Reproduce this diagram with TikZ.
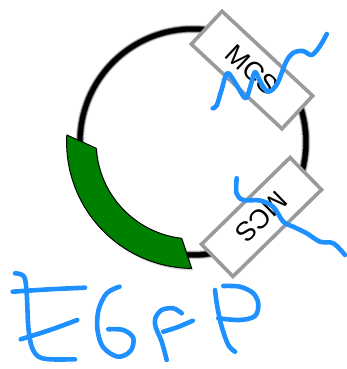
\documentclass[tikz,border=0pt]{standalone}
\usepackage{fontspec}
\newfontfamily\labelfont{Liberation Sans}
\definecolor{pen}{RGB}{30,144,255}
\definecolor{boxgray}{RGB}{152,154,157}
\definecolor{egfp}{RGB}{0,128,0}
\tikzset{
  scribble/.style={draw=pen,line width=4.6pt,line cap=round,line join=round},
  mcsbox/.style={draw=boxgray,line width=3.6pt,fill=white,minimum width=124pt,minimum height=45pt,inner sep=0pt,
    font=\labelfont\fontsize{27}{27}\selectfont}
}
\begin{document}
\begin{tikzpicture}[x=1pt,y=1pt,yscale=-1]
\useasboundingbox (0,0) rectangle (347,369);
% plasmid backbone
\draw[black!20,line width=8.5pt] (193,142) circle[radius=113];
\draw[black!60,line width=6.5pt] (193,142) circle[radius=113];
\draw[black,line width=5pt] (193,142) circle[radius=113];
% EGFP band
\begin{scope}[shift={(194.5,144)}]
\fill[black,opacity=0.18] (183.2:126.4) arc[start angle=183.2,end angle=90.6,radius=126.4] -- (96.7:97) arc[start angle=96.7,end angle=176.3,radius=97] -- cycle;
\end{scope}
\begin{scope}[shift={(193,142)}]
\draw[fill=egfp,line width=1pt,line join=round] (183.2:126.4) arc[start angle=183.2,end angle=90.6,radius=126.4] -- (96.7:97) arc[start angle=96.7,end angle=176.3,radius=97] -- cycle;
\end{scope}
% MCS boxes
\node[mcsbox,rotate=-43] (mcs1) at (252,70) {MCS};
\node[mcsbox,rotate=224.4] (mcs2) at (261.5,217) {MCS};
% scribbles over the boxes
\draw[scribble] plot[smooth,tension=0.55] coordinates {(212.7,108.3) (216.7,105.5) (221.5,90) (227.5,73) (236.5,85) (245.5,98.3) (250.5,86) (255,72) (261.5,84) (268.3,91.7) (277,84) (286,62) (293,53) (303,51) (311.7,55) (320,46) (326.7,34)};
\draw[scribble] plot[smooth,tension=0.55] coordinates {(236.7,178.3) (236.5,193.3) (243.3,200) (260,200.5) (273.3,207) (283.3,221.7) (293.3,226.7) (306.7,233.3) (320,241.7) (333.3,243.3) (345,255)};
% E
\draw[scribble] plot[smooth,tension=0.55] coordinates {(15,273.3) (24,276.5) (26.7,293.3) (28.3,326.7) (31.7,346.7) (38.3,356.5) (50,359.3) (75,359.3)};
\draw[scribble] plot[smooth,tension=0.55] coordinates {(12.7,291.7) (50,289.3) (85,287.7)};
\draw[scribble] plot[smooth,tension=0.55] coordinates {(20.7,339.3) (50,330) (77.3,320)};
% G
\draw[scribble] plot[smooth,tension=0.55] coordinates {(119.5,286.7) (106.7,293.3) (98.5,310) (97.5,330) (103.3,347.5) (118,356.7) (130.5,351) (133.3,338) (123.3,330) (108.3,329.3)};
% F
\draw[scribble] plot[smooth,tension=0.55] coordinates {(181.7,313.3) (173.3,308.3) (161.7,310) (155.3,318.3) (155.8,327.5) (161.7,341.7) (166.7,360)};
\draw[scribble] plot[smooth,tension=0.55] coordinates {(163.3,331.7) (178,327) (192.7,320.7)};
% P
\draw[scribble] plot[smooth,tension=0.55] coordinates {(215,290) (217.3,306.7) (221.7,326.7) (228.3,345) (235,351.7)};
\draw[scribble] plot[smooth,tension=0.55] coordinates {(223.3,286) (240,286.7) (253.3,293.3) (258.3,304) (255,316) (240,320) (218.3,318.3)};
\end{tikzpicture}
\end{document}
